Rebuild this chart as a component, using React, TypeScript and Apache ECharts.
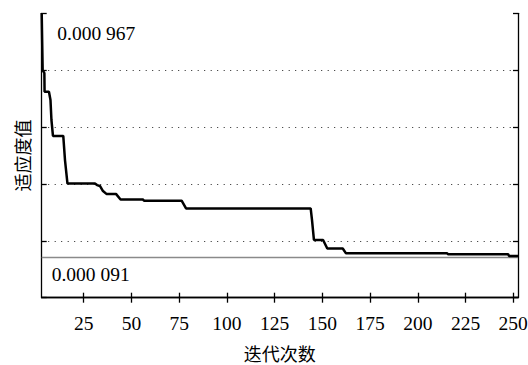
import React, { useEffect, useRef } from "react";
import * as echarts from "echarts";

const iterations = [3, 3.5, 4.4, 4.5, 6.8, 7.6, 8.1, 8.9, 14.3, 15.2, 16.5, 30.9, 32, 33.5, 35.1, 36.9, 41.9, 44.3, 56.1, 56.6, 76.3, 78.6, 143.9, 144.6, 145.6, 150.4, 152.6, 160.7, 162.4, 215.3, 215.9, 247.3, 247.8, 252.5];
const fitness = [0.001, 0.0008, 0.00079, 0.000724, 0.000724, 0.000695, 0.000625, 0.000569, 0.000569, 0.000484, 0.0004015, 0.0004015, 0.000396, 0.000393, 0.000375, 0.000365, 0.000365, 0.000345, 0.000345, 0.000341, 0.000341, 0.000314, 0.000314, 0.000273, 0.000203, 0.000203, 0.000173, 0.000173, 0.000156, 0.000156, 0.000153, 0.000153, 0.000147, 0.000147];
const xTicks = [25, 50, 75, 100, 125, 150, 175, 200, 225, 250];
const refLineX = [3, 252.5];
const refLineValue = 0.000141;
const startLabel = "0.000 967";
const endLabel = "0.000 091";
const xName = "迭代次数";
const yName = "适应度值";

const SERIF = '"Liberation Serif", "Times New Roman", serif';
const CJK = '"Noto Sans CJK SC", sans-serif';

export default function App() {
  const ref = useRef<HTMLDivElement>(null);
  useEffect(() => {
    document.body.style.margin = "0";
    if (!ref.current) return;
    const chart = echarts.init(ref.current, undefined, { renderer: "svg" });
    const axisLine = { show: true, lineStyle: { color: "#000", width: 1.3 } };
    const tick = { show: true, inside: true, length: 5, lineStyle: { color: "#000", width: 1.3 } };
    chart.setOption({
      animation: false,
      backgroundColor: "#fff",
      textStyle: { fontFamily: SERIF, fontSize: 19.5, color: "#000" },
      grid: { left: 41.7, top: 13.3, right: 10, bottom: 67.3, containLabel: false, outerBoundsMode: "none" },
      xAxis: [
        {
          type: "value",
          position: "bottom",
          min: 3,
          max: 252.5,
          axisLine,
          axisTick: { ...tick, customValues: xTicks },
          axisLabel: { customValues: xTicks, margin: 16, fontFamily: SERIF, fontSize: 19.5, color: "#000" },
          splitLine: { show: false },
          name: xName,
          nameLocation: "middle",
          nameGap: 46,
          nameTextStyle: { fontFamily: CJK, fontSize: 18, color: "#000" },
        },
        {
          type: "value",
          position: "top",
          min: 3,
          max: 252.5,
          axisLine,
          axisTick: { ...tick, customValues: xTicks },
          axisLabel: { show: false },
          splitLine: { show: false },
        },
      ],
      yAxis: [
        {
          type: "value",
          position: "left",
          min: 0,
          max: 0.001,
          interval: 0.0002,
          axisLine,
          axisTick: tick,
          axisLabel: { show: false },
          splitLine: { show: true, showMinLine: false, showMaxLine: false, lineStyle: { color: "#222", width: 1, type: [1, 5.5] } },
          name: yName,
          nameLocation: "middle",
          nameGap: 11,
          nameRotate: 90,
          nameTextStyle: { fontFamily: CJK, fontSize: 18, color: "#000" },
        },
        {
          type: "value",
          position: "right",
          min: 0,
          max: 0.001,
          interval: 0.0002,
          axisLine,
          axisTick: tick,
          axisLabel: { show: false },
          splitLine: { show: false },
        },
      ],
      series: [
        {
          type: "line",
          data: refLineX.map((x) => [x, refLineValue]),
          symbol: "none",
          silent: true,
          lineStyle: { color: "#8a8a8a", width: 1.5 },
          z: 2,
        },
        {
          type: "line",
          data: iterations.map((it, i) => [it, fitness[i]]),
          symbol: "none",
          clip: true,
          lineStyle: { color: "#000", width: 2.5 },
          z: 3,
        },
      ],
      graphic: [
        {
          type: "text",
          left: 57.3,
          top: 23,
          style: { text: startLabel, fontFamily: SERIF, fontSize: 19.5, fill: "#000" },
        },
        {
          type: "text",
          left: 51.7,
          top: 264,
          style: { text: endLabel, fontFamily: SERIF, fontSize: 19.5, fill: "#000" },
        },
      ],
    });
    return () => chart.dispose();
  }, []);
  return <div ref={ref} style={{ width: 528, height: 365 }} />;
}
